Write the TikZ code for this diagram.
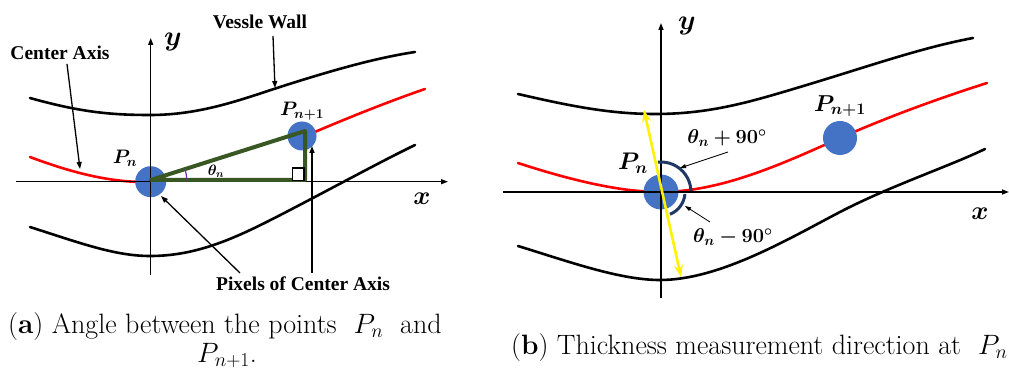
\RequirePackage{fix-cm}
\documentclass[tikz,border=0pt]{standalone}
\usepackage{fontspec}
\usepackage{amsmath,bm}
\newfontfamily\lblfont{Liberation Serif}
\usetikzlibrary{arrows.meta}
\definecolor{ptblue}{HTML}{4472C4}
\definecolor{trigreen}{HTML}{385723}
\definecolor{navyarc}{HTML}{1F3864}
\definecolor{angpurple}{HTML}{7030A0}
\begin{document}
\begin{tikzpicture}[x=1pt,y=-1pt,
  wall/.style={line width=2.6pt, black, line cap=round},
  redaxis/.style={line width=2.6pt, red, line cap=round},
  ax/.style={line width=1.4pt, -{Triangle[length=7pt,width=5pt]}},
  ptr/.style={line width=1.3pt, -{Triangle[length=7pt,width=5pt]}},
  thinptr/.style={line width=0.8pt, -{Triangle[length=6pt,width=4pt]}},
  dot/.style={circle, fill=ptblue, inner sep=0pt, minimum size=#1},
  lbl/.style={font=\lblfont\bfseries\fontsize{19.5}{20}\selectfont, inner sep=0pt},
  mlbl/.style={inner sep=0pt, font=\fontsize{#1}{#1}\selectfont},
  captxt/.style={inner sep=0pt, anchor=base west, font=\fontsize{28}{28}\selectfont},
]
\useasboundingbox (0,0) rectangle (1009,374);

% ================= Panel (a) =================
\draw[wall] (30,98) .. controls (80,112) and (110,115) .. (150,115)
  .. controls (200,115) and (240,100) .. (280,87)
  .. controls (330,71) and (375,58) .. (415,52);
\draw[wall] (30,227) .. controls (80,243) and (115,256) .. (150,256)
  .. controls (200,256) and (240,236) .. (290,210)
  .. controls (340,184) and (380,162) .. (415,145);
\draw[redaxis] (30,157) .. controls (70,172) and (105,181) .. (140,182);
\draw[redaxis] (310,134) .. controls (350,117) and (390,101) .. (425,89);

\node[dot=31pt] (pa) at (150.7,181.7) {};
\node[dot=29pt] (pa1) at (302,136) {};

\coordinate (ayb) at (150.7,275);
\coordinate (ayt) at (150.7,38);
\coordinate (axl) at (16,181.7);
\coordinate (axr) at (448,181.7);
\draw[ax] (ayb) -- (ayt);
\draw[ax] (axl) -- (axr);

\coordinate (ta) at (150.7,180);
\coordinate (tb) at (305,131);
\coordinate (tc) at (305,180);
\draw[trigreen, line width=4pt, line join=round] (ta) -- (tb) -- (tc) -- cycle;
\draw[black, line width=1.3pt, fill=white] (292.5,168) rectangle (304,180.5);
\draw[angpurple, line width=1.2pt] (ta) ++(36,0) arc[start angle=0, end angle=-18, radius=36];

\node[mlbl=15] (tha) at (216,171) {$\bm{\theta_n}$};
\node[mlbl=19.5] (lpa) at (125,158) {$\bm{P_n}$};
\node[mlbl=19.5] (lpa1) at (302,111) {$\bm{P_{n+1}}$};
\node[mlbl=28] (lya) at (173,42) {$\bm{y}$};
\node[mlbl=26] (lxa) at (422,199) {$\bm{x}$};

\node[lbl] (vw) at (260,21.5) {Vessle Wall};
\node[lbl] (ca) at (60,53) {Center Axis};
\node[lbl] (pc) at (303,283.5) {Pixels of Center Axis};

\coordinate (vws) at (273,36);
\coordinate (vwe) at (275,88);
\draw[ptr] (vws) -- (vwe);
\coordinate (cas) at (67,64);
\coordinate (cae) at (80,169);
\draw[ptr] (cas) -- (cae);
\coordinate (pcs1) at (240,273);
\coordinate (pce1) at (161,196);
\draw[ptr] (pcs1) -- (pce1);
\coordinate (pcs2) at (312,273);
\coordinate (pce2) at (312,146);
\draw[ptr] (pcs2) -- (pce2);

% ================= Panel (b) =================
\draw[wall] (518,94) .. controls (570,106) and (610,114) .. (655,114)
  .. controls (710,114) and (750,102) .. (800,87)
  .. controls (870,66) and (920,48) .. (973,38);
\draw[wall] (518,246) .. controls (570,262) and (620,280) .. (660,280)
  .. controls (720,280) and (790,238) .. (840,212)
  .. controls (890,186) and (950,166) .. (985,149);
\draw[redaxis] (518,163) .. controls (570,180) and (620,192) .. (660,192)
  .. controls (720,192) and (780,165) .. (840,138)
  .. controls (890,116) and (940,98) .. (987,83);

\node[dot=35pt] (pb) at (661,192) {};
\node[dot=34pt] (pb1) at (840,138) {};

\coordinate (byb) at (661,298);
\coordinate (byt) at (661,23);
\coordinate (bxl) at (503,192);
\coordinate (bxr) at (1009,192);
\draw[ax] (byb) -- (byt);
\draw[ax] (bxl) -- (bxr);

\draw[navyarc, line width=3pt] (pb.center) ++(-96:30) arc[start angle=-96, end angle=-2, radius=30];
\draw[navyarc, line width=3pt] (pb.center) ++(5:24) arc[start angle=5, end angle=68, radius=24];

\coordinate (yt) at (644,110);
\coordinate (yb) at (681,277);
\draw[yellow, line width=2.6pt, {Stealth[length=12pt,width=9pt]}-{Stealth[length=12pt,width=9pt]}] (yt) -- (yb);

\node[mlbl=24] (lpb) at (633,163) {$\bm{P_n}$};
\node[mlbl=23] (lpb1) at (840,106) {$\bm{P_{n+1}}$};
\node[mlbl=20] (tp) at (727,138) {$\bm{\theta_n + 90^\circ}$};
\node[mlbl=20] (tm) at (733,237) {$\bm{\theta_n - 90^\circ}$};
\node[mlbl=28] (lyb) at (687,26) {$\bm{y}$};
\node[mlbl=26] (lxb) at (980,214) {$\bm{x}$};

\coordinate (tps) at (728,152);
\coordinate (tpe) at (680,168);
\draw[thinptr] (tps) -- (tpe);
\coordinate (tms) at (710,222);
\coordinate (tme) at (685,206);
\draw[thinptr] (tms) -- (tme);

% ================= Captions =================
\node[captxt] (capa1) at (8,333) {(\textbf{a}) Angle between the points~ $P_n$~ and};
\node[captxt] (capa2) at (197,362) {$P_{n+1}$.};
\node[captxt] (capb) at (511,354) {(\textbf{b}) Thickness measurement direction at~ $P_n$};
\end{tikzpicture}
\end{document}
